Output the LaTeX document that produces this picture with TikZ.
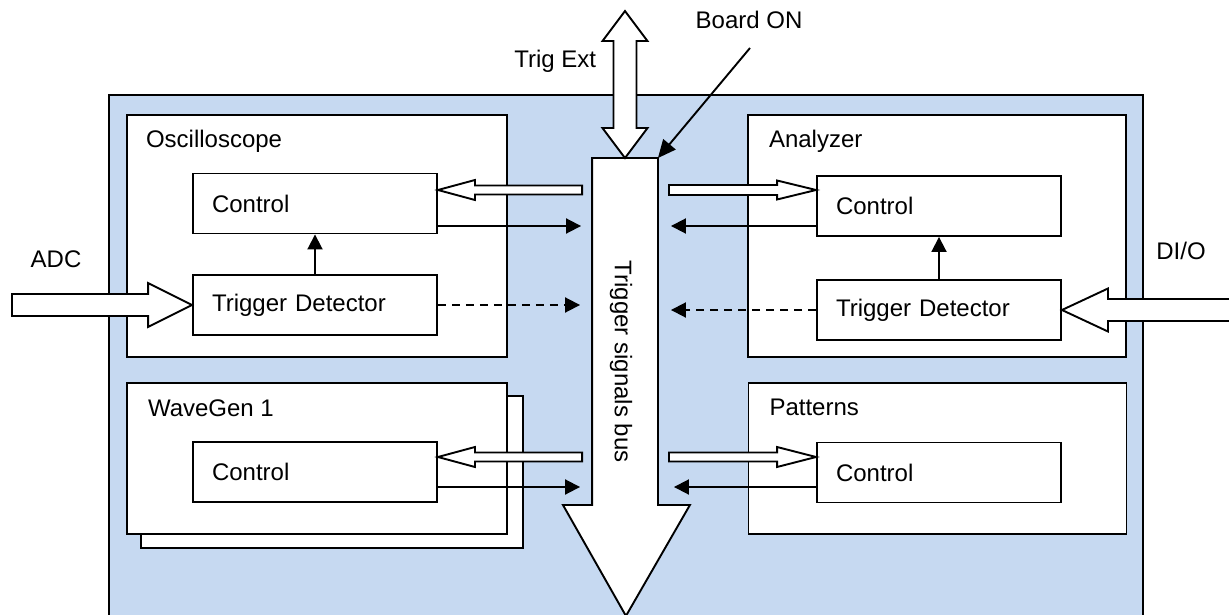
\documentclass[tikz,border=0pt]{standalone}
\usepackage{fontspec}
\setmainfont{Liberation Sans}
\usetikzlibrary{arrows.meta,calc}

\definecolor{panelblue}{HTML}{C6D9F1}
\tikzset{
  panel/.style={draw,fill=panelblue},
  unit/.style={draw,fill=white,inner sep=0pt,minimum height=242pt},
  block/.style={draw,fill=white,minimum width=244pt,minimum height=60pt,
    text width=206pt,inner xsep=19pt,inner ysep=0pt,align=left},
  unitname/.style={anchor=base west,inner sep=0pt},
  lbl/.style={inner sep=0pt},
  hollow/.style={draw,fill=white,line join=miter},
  sig/.style={-{Triangle[length=15pt,width=15pt]}},
  trig/.style={sig,dash pattern=on 8pt off 6pt},
}
% tip, tail, head length (towards tail), head half width, shaft half width
\newcommand\hollowarrow[5]{%
  \draw[hollow] let \p1=#1, \p2=#2 in
    (\p1) -- ++(#3,-#4) -- ++(0,#4-#5) -- ([shift={(0,-#5)}]\x2,\y1)
    -- ([shift={(0,#5)}]\x2,\y1) -- ([shift={(#3,#5)}]\p1)
    -- ([shift={(#3,#4)}]\p1) -- cycle;}

\begin{document}
\begin{tikzpicture}[x=1pt,y=-1pt,line width=1.9pt,
    font=\fontsize{24}{29}\selectfont]
  \useasboundingbox (0,0) rectangle (1229,615);
  \draw[panel] (109,95) rectangle (1143,640);

  % units
  \node[unit,minimum width=380pt] (osc) at (317,236) {};
  \node[unit,minimum width=378pt] (ana) at (937,236) {};
  \node[unit,minimum width=382pt,minimum height=152pt] (wave2) at (332,472) {};
  \node[unit,minimum width=380pt,minimum height=151pt] (wave) at (317,458.5) {};
  \node[unit,minimum width=378pt,minimum height=151pt] (pat) at (937.5,458.5) {};
  \node[unitname] at ([shift={(19,33)}]osc.north west) {Oscilloscope};
  \node[unitname] at ([shift={(21,33)}]ana.north west) {Analyzer};
  \node[unitname] at ([shift={(21,34)}]wave.north west) {WaveGen 1};
  \node[unitname] at ([shift={(21,33)}]pat.north west) {Patterns};

  \node[block] (oscctl) at (315,203.5) {Control};
  \node[block] (osctrig) at (315,305) {Trigger Detector};
  \node[block] (wavectl) at (315,472) {Control};
  \node[block] (anactl) at (939,206) {Control};
  \node[block] (anatrig) at (939,310) {Trigger Detector};
  \node[block] (patctl) at (939,472.5) {Control};

  % bus
  \node[minimum width=64pt,minimum height=345pt,inner sep=0pt] (bus) at (625,331.5) {};
  \draw[hollow] (bus.north west) -- (bus.north east) -- (bus.south east)
    -- ++(32,0) -- ++(-64,111) -- ++(-63,-111) -- (bus.south west) -- cycle;
  \node[lbl,rotate=-90] (buslbl) at (621,361.5) {Trigger signals bus};
  \draw[hollow] (bus.north) -- ++(-22.5,-30) -- ++(11,0) -- ++(0,-87) -- ++(-11,0)
    -- ++(22.5,-30) coordinate (ext) -- ++(22.5,30) -- ++(-11,0) -- ++(0,87)
    -- ++(11,0) -- cycle;
  \node[lbl,anchor=east] (trigext) at ([shift={(-28,50)}]ext) {Trig Ext};
  \node[lbl] (boardon) at (749,20) {Board ON};
  \coordinate (on) at (750,48);
  \draw[-{Triangle[length=18pt,width=16pt]}] (on) -- (bus.north east);

  % inputs
  \coordinate (adcin) at (12,305);
  \coordinate (dioin) at (1240,310);
  \node[lbl] (adc) at (56,259) {ADC};
  \node[lbl] (dio) at (1181,251) {DI/O};
  \hollowarrow{(osctrig.west)}{(adcin)}{-44}{22}{11}
  \hollowarrow{(anatrig.east)}{(dioin)}{46}{21.5}{11}

  % bus links
  \hollowarrow{([shift={(0,-13.5)}]oscctl.east)}{([xshift=-10pt]bus.west)}{37}{10}{4.5}
  \hollowarrow{([shift={(0,-15)}]wavectl.east)}{([xshift=-10pt]bus.west)}{37}{10}{4.5}
  \hollowarrow{([shift={(0,-16)}]anactl.west)}{([xshift=11pt]bus.east)}{-39}{9.5}{5}
  \hollowarrow{([shift={(0,-15.5)}]patctl.west)}{([xshift=11pt]bus.east)}{-39}{10}{4.5}
  \draw[sig,shorten >=11pt] ([shift={(0,22.5)}]oscctl.east) -- ([shift={(0,22.5)}]oscctl.east -| bus.west);
  \draw[sig,shorten >=12pt] ([shift={(0,15)}]wavectl.east) -- ([shift={(0,15)}]wavectl.east -| bus.west);
  \draw[sig,shorten >=13pt] ([shift={(0,20)}]anactl.west) -- ([shift={(0,20)}]anactl.west -| bus.east);
  \draw[sig,shorten >=16pt] ([shift={(0,14.5)}]patctl.west) -- ([shift={(0,14.5)}]patctl.west -| bus.east);
  \draw[trig,shorten >=12pt] (osctrig.east) -- (osctrig.east -| bus.west);
  \draw[trig,shorten >=13pt] (anatrig.west) -- (anatrig.west -| bus.east);
  \draw[sig] (osctrig) -- (oscctl);
  \draw[sig] (anatrig) -- (anactl);
\end{tikzpicture}
\end{document}
